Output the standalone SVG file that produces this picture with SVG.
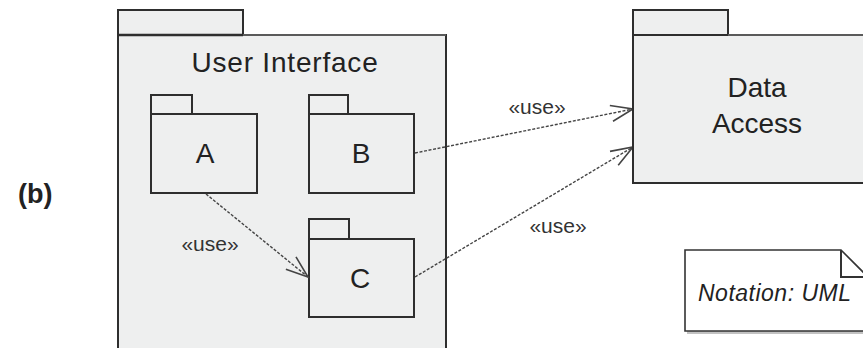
<svg xmlns="http://www.w3.org/2000/svg" width="863" height="348" viewBox="0 0 863 348">
  <defs>
    <style>
      .pkg { fill: #eeefef; stroke: #2e2e2e; stroke-width: 2; }
      .pkg-top { fill: none; stroke: #6a6a6a; stroke-width: 1.5; }
      .name { font-family: "Liberation Sans", Arial, sans-serif; font-size: 28px; fill: #222; text-anchor: middle; }
      .stereo { font-family: "Liberation Sans", Arial, sans-serif; font-size: 21px; fill: #333; text-anchor: middle; }
      .dep { fill: none; stroke: #444; stroke-width: 1.4; stroke-dasharray: 3 1.6; }
      .note { fill: #ffffff; stroke: #333; stroke-width: 1.6; }
      .note-text { font-family: "Liberation Sans", Arial, sans-serif; font-style: italic; font-size: 23px; fill: #222; letter-spacing: 0.5px; }
      .tag { font-family: "Liberation Sans", Arial, sans-serif; font-weight: bold; font-size: 27px; fill: #222; }
    </style>
    <marker id="open-arrow" markerUnits="userSpaceOnUse" markerWidth="30" markerHeight="24" refX="24" refY="10" orient="auto" overflow="visible">
      <path d="M2,2 L24,10 L2,18" fill="none" stroke="#444" stroke-width="1.6" stroke-dasharray="none"/>
    </marker>
  </defs>

  <!-- panel label -->
  <g id="label-b">
    <text class="tag" x="18" y="203">(b)</text>
  </g>

  <!-- enclosing package -->
  <g id="user-interface">
    <rect class="pkg" x="118" y="10" width="125" height="25"/>
    <rect class="pkg" x="118" y="35" width="328" height="330" stroke-width="2.6"/>
    <line class="pkg-top" x1="243" y1="35" x2="446" y2="35"/>
    <line x1="118" y1="35" x2="243" y2="35" stroke="#2e2e2e" stroke-width="2.4"/>
    <text class="name" x="285" y="72" letter-spacing="0.8">User Interface</text>
  </g>

  <g id="package-a">
    <rect class="pkg" x="151" y="95" width="41" height="19"/>
    <rect class="pkg" x="151" y="114" width="106" height="79"/>
    <text class="name" x="205" y="163">A</text>
  </g>

  <g id="package-b">
    <rect class="pkg" x="309" y="95" width="39" height="19"/>
    <rect class="pkg" x="309" y="114" width="105" height="79"/>
    <text class="name" x="361" y="163">B</text>
  </g>

  <g id="package-c">
    <rect class="pkg" x="309" y="219" width="40" height="20"/>
    <rect class="pkg" x="309" y="239" width="105" height="78"/>
    <text class="name" x="360" y="288">C</text>
  </g>

  <!-- dependencies -->
  <g id="connectors">
    <path class="dep" d="M415,153 L633,109" marker-end="url(#open-arrow)"/>
    <path class="dep" d="M415,277 L633,147" marker-end="url(#open-arrow)"/>
    <path class="dep" d="M206,194 L308,277" marker-end="url(#open-arrow)"/>
    <text class="stereo" x="537" y="114">«use»</text>
    <text class="stereo" x="558" y="233">«use»</text>
    <text class="stereo" x="210" y="251">«use»</text>
  </g>

  <g id="data-access">
    <rect class="pkg" x="633" y="10" width="95" height="25"/>
    <rect class="pkg" x="633" y="35" width="250" height="148"/>
    <line class="pkg-top" x1="728" y1="35" x2="863" y2="35"/>
    <text class="name" x="757" y="97">Data</text>
    <text class="name" x="757" y="133">Access</text>
  </g>

  <!-- notation comment -->
  <g id="note">
    <path d="M687,252 H843 L870,279 V334 H687 Z" fill="#9a9a9a" opacity="0.6"/>
    <path class="note" d="M685,250 H841 L868,277 V331 H685 Z"/>
    <path d="M841,250 V277 H868" fill="none" stroke="#333" stroke-width="2"/>
    <text class="note-text" x="698" y="301">Notation: UML</text>
  </g>
</svg>
